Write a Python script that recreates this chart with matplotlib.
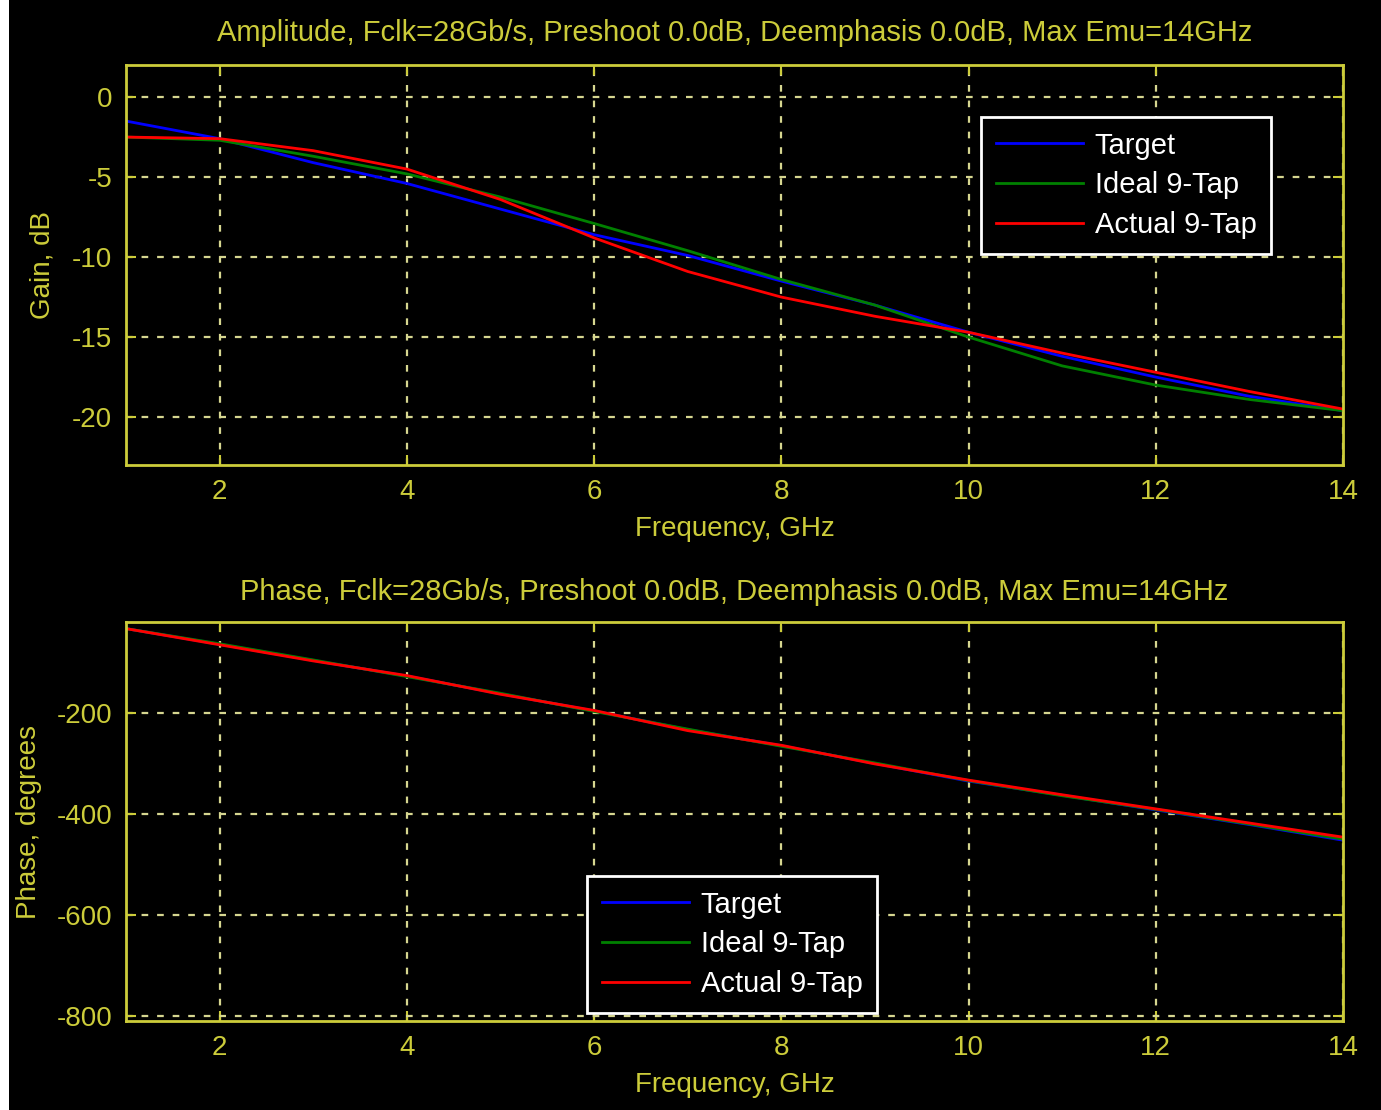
import matplotlib
matplotlib.use("Agg")
import matplotlib.pyplot as plt
from matplotlib.patches import Rectangle

plt.rcParams['font.family'] = ['Liberation Sans', 'DejaVu Sans']
plt.rcParams['axes.unicode_minus'] = False

# frequency points, GHz
freq = [1, 2, 3, 4, 5, 6, 7, 8, 9, 10, 11, 12, 13, 14]

# amplitude, dB
gain_target = [-1.5, -2.6, -4.1, -5.4, -7.0, -8.6, -9.9, -11.5, -13.0, -14.7, -16.2, -17.5, -18.7, -19.6]
gain_ideal = [-2.5, -2.7, -3.7, -4.8, -6.25, -7.9, -9.6, -11.4, -13.0, -15.0, -16.8, -18.0, -18.9, -19.6]
gain_actual = [-2.5, -2.6, -3.35, -4.5, -6.4, -8.8, -10.9, -12.5, -13.7, -14.7, -16.0, -17.2, -18.4, -19.5]

# phase, degrees
phase_target = [-33, -64, -96, -127, -162, -196, -233, -265, -300, -335, -363, -392, -421, -452]
phase_ideal = [-33, -63, -95, -128, -161, -197, -232, -266, -299, -334, -364, -391, -420, -450]
phase_actual = [-33, -65, -97, -126, -163, -195, -235, -264, -301, -333, -362, -390, -418, -446]

labels = ["Target", "Ideal 9-Tap", "Actual 9-Tap"]
line_colors = ["#0000ff", "#008000", "#ff0000"]

YEL = "#cccc3a"
GRID = "#d6d690"
FS = 19


def style_axes(ax):
    ax.set_facecolor("black")
    for sp in ax.spines.values():
        sp.set_color(YEL)
        sp.set_linewidth(2)
    ax.tick_params(colors=YEL, labelsize=FS + 1, direction="in", length=7, width=1.5,
                   top=True, right=True, pad=10)
    ax.grid(True, color=GRID, linestyle=(0, (3, 4)), linewidth=1.6)
    ax.set_xlim(1, 14)
    ax.set_xticks([2, 4, 6, 8, 10, 12, 14])
    ax.set_xlabel("Frequency, GHz", color=YEL, fontsize=FS + 1, labelpad=8)


def add_legend(ax, x, y):
    leg = ax.legend(labels, loc="upper left", bbox_to_anchor=(x, y), borderaxespad=0,
                    fontsize=FS + 2, handlelength=3.0, labelspacing=0.4, borderpad=0.5,
                    handletextpad=0.4, fancybox=False, framealpha=1)
    leg.get_frame().set_facecolor("black")
    leg.get_frame().set_edgecolor("white")
    leg.get_frame().set_linewidth(2)
    for t in leg.get_texts():
        t.set_color("white")


fig = plt.figure(figsize=(13.81, 11.10), dpi=100, facecolor="black")
fig.patches.append(Rectangle((0, 0), 9 / 1381, 1, transform=fig.transFigure,
                             facecolor="white", edgecolor="none", zorder=-1))

ax1 = fig.add_axes([0.0912, 0.581, 0.8813, 0.3604])
ax2 = fig.add_axes([0.0912, 0.0802, 0.8813, 0.3594])

ax1.plot(freq, gain_target, color=line_colors[0], lw=2)
ax1.plot(freq, gain_ideal, color=line_colors[1], lw=2)
ax1.plot(freq, gain_actual, color=line_colors[2], lw=2)
style_axes(ax1)
ax1.set_ylim(-23, 2)
ax1.set_yticks([0, -5, -10, -15, -20])
ax1.set_ylabel("Gain, dB", color=YEL, fontsize=FS + 1, labelpad=12)
ax1.set_title("Amplitude, Fclk=28Gb/s, Preshoot 0.0dB, Deemphasis 0.0dB, Max Emu=14GHz",
              color=YEL, fontsize=FS + 2, pad=17)
add_legend(ax1, 0.7026, 0.87)

ax2.plot(freq, phase_target, color=line_colors[0], lw=2)
ax2.plot(freq, phase_ideal, color=line_colors[1], lw=2)
ax2.plot(freq, phase_actual, color=line_colors[2], lw=2)
style_axes(ax2)
ax2.set_ylim(-810, -20)
ax2.set_yticks([-200, -400, -600, -800])
ax2.set_ylabel("Phase, degrees", color=YEL, fontsize=FS + 1, labelpad=10)
ax2.set_title("Phase, Fclk=28Gb/s, Preshoot 0.0dB, Deemphasis 0.0dB, Max Emu=14GHz",
              color=YEL, fontsize=FS + 2, pad=16)
add_legend(ax2, 0.3788, 0.3634)

fig.savefig("out.png", dpi=100, facecolor=fig.get_facecolor())
